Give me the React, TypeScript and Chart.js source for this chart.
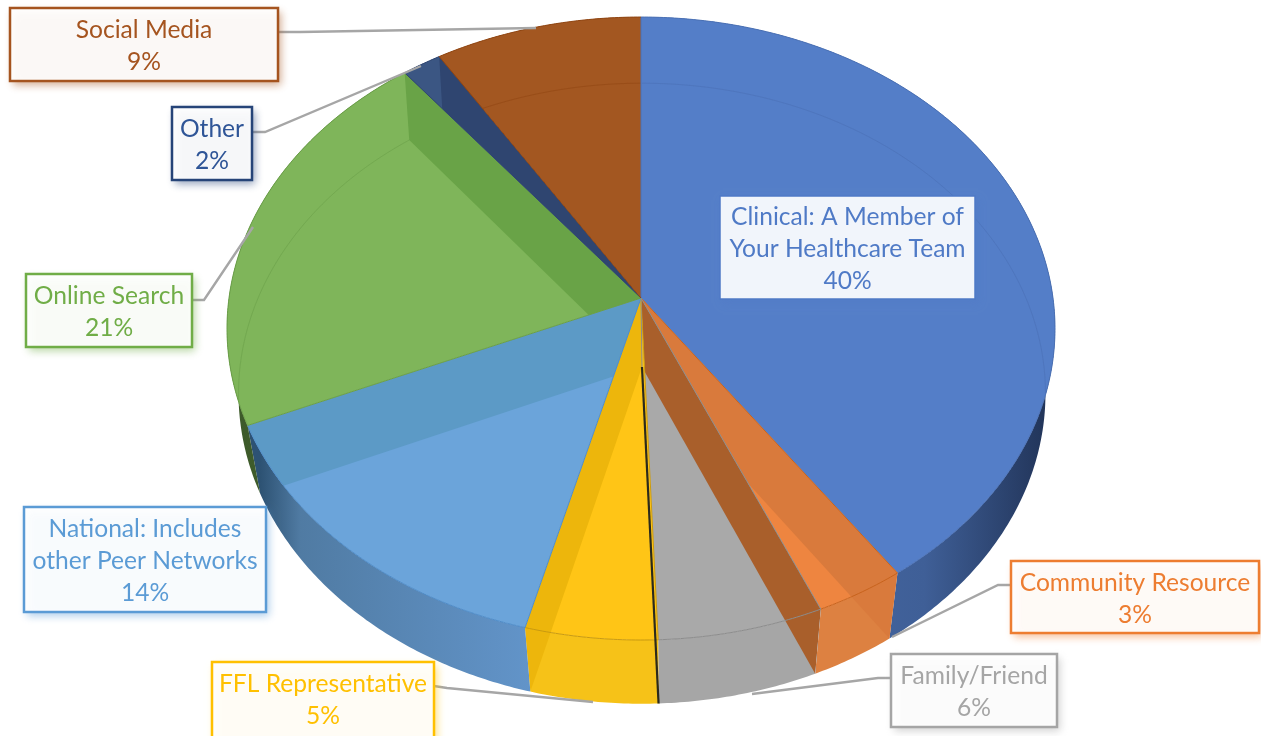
import React, { useEffect, useRef } from "react";
import { Chart, registerables } from "chart.js";

Chart.register(...registerables);

const categories = ["Clinical: A Member of Your Healthcare Team", "Community Resource", "Family/Friend", "FFL Representative", "National: Includes other Peer Networks", "Online Search", "Other", "Social Media"];
const values = [40.3, 3.2, 5.9, 4.7, 14.4, 20.9, 1.7, 8.9];
const labelLines = [
  ["Clinical: A Member of", "Your Healthcare Team"],
  ["Community Resource"],
  ["Family/Friend"],
  ["FFL Representative"],
  ["National: Includes", "other Peer Networks"],
  ["Online Search"],
  ["Other"],
  ["Social Media"],
];
const topColors = ["#547ec8", "#ee8540", "#a9a9a9", "#ffc516", "#6ba4da", "#7fb55a", "#3b5683", "#a35721"];
const edgeColors = ["#4a70b4", "#c8631d", "#8c8c8c", "#c99a10", "#4f8cc8", "#6a9e48", "#2f4570", "#8f4512"];
const textColors = ["#4f7ac6", "#ed7d31", "#a5a5a5", "#ffc000", "#5b9bd5", "#70ad47", "#2f5597", "#a5541f"];
const borderColors = ["#4f7ac6", "#ed7d31", "#a5a5a5", "#ffc000", "#5b9bd5", "#70ad47", "#264478", "#a5541f"];
// shade of the inner radial wall seen through each slice's top: [side at slice start, side at slice end]
const innerWalls: (string | null)[][] = [
  [null, null],
  ["#d97a3c", null],
  ["#a95f2b", null],
  [null, "#edb60c"],
  [null, "#5c9ac6"],
  [null, "#69a347"],
  [null, "#2f4570"],
  [null, null],
];
// whether that inner wall also shows on the slice's outer wall
const wallOverOuter = [false, true, true, true, false, false, false, false];
// colour stops of each slice's outer wall, left to right
const outerWalls: string[][] = [
  ["#4c70ae", "#3f5f97", "#22355a"],
  ["#dd8141", "#dd8141"],
  ["#a6a6a6", "#a6a6a6"],
  ["#f6c218", "#f6c218"],
  ["#2d5273", "#507ba3", "#6294c9"],
  ["#3d5a2a", "#4a6a32"],
  ["#3b5683", "#3b5683"],
  ["#a35721", "#a35721"],
];
// [x, y, w, h] of each label box
const labelBoxes = [
  [720, 196, 255, 103],
  [1011, 561, 248, 72],
  [891, 654, 166, 73],
  [212, 662, 222, 80],
  [24, 507, 242, 105],
  [26, 274, 166, 73],
  [172, 107, 80, 73],
  [10, 8, 268, 73],
];
const leaders: number[][][] = [
  [],
  [[1010, 585], [998, 585], [892, 637]],
  [[891, 678], [878, 678], [752, 694]],
  [[434, 686], [447, 688], [593, 702]],
  [],
  [[192, 300], [204, 300], [253, 227]],
  [[252, 132], [265, 132], [421, 66]],
  [[278, 32], [300, 32], [536, 28]],
];
const topFace = { x0: 641, y0: 298, a: 308.5, b: 412, p: -0.098 };
const bottomFace = { x0: 642, y0: 367, a: 308, b: 402, p: -0.0853 };
type Face = typeof topFace;

function project(theta: number, f: Face): [number, number] {
  const u = Math.sin(theta);
  const v = -Math.cos(theta);
  const d = 1 + f.p * v;
  return [f.x0 + (f.b * u) / d, f.y0 + (f.a * v) / d];
}
function rim(t0: number, t1: number, f: Face): [number, number][] {
  const out: [number, number][] = [];
  const n = Math.max(2, Math.ceil(Math.abs(t1 - t0) / 0.01));
  for (let i = 0; i <= n; i++) out.push(project(t0 + ((t1 - t0) * i) / n, f));
  return out;
}
function trace(ctx: CanvasRenderingContext2D, pts: number[][]) {
  pts.forEach((p, i) => (i ? ctx.lineTo(p[0], p[1]) : ctx.moveTo(p[0], p[1])));
  ctx.closePath();
}

const pie3d = {
  id: "pie3d",
  beforeDatasetsDraw(chart: any) {
    const ctx: CanvasRenderingContext2D = chart.ctx;
    const arcs = chart.getDatasetMeta(0).data;
    const spans = arcs.map((a: any) => [a.startAngle + Math.PI / 2, a.endAngle + Math.PI / 2]);
    const topApex = [topFace.x0, topFace.y0];
    const botApex = [bottomFace.x0, bottomFace.y0];

    // outer walls
    spans.forEach(([t0, t1]: number[], i: number) => {
      const bot = rim(t0, t1, bottomFace);
      const top = rim(t0, t1, topFace).reverse();
      const xs = bot.map((p) => p[0]);
      const g = ctx.createLinearGradient(Math.min(...xs), 0, Math.max(...xs), 0);
      const stops = outerWalls[i];
      stops.forEach((c, k) => g.addColorStop(stops.length === 3 && k === 1 ? (i === 0 ? 0.7 : 0.15) : k / (stops.length - 1), c));
      ctx.beginPath();
      trace(ctx, [...bot, ...top]);
      ctx.fillStyle = g;
      ctx.fill();
    });

    // top faces with the inner walls showing through
    spans.forEach(([t0, t1]: number[], i: number) => {
      const top = rim(t0, t1, topFace);
      ctx.beginPath();
      trace(ctx, [topApex, ...top]);
      ctx.fillStyle = topColors[i];
      ctx.fill();
      ctx.save();
      ctx.beginPath();
      trace(ctx, [topApex, ...top]);
      if (wallOverOuter[i]) trace(ctx, [...rim(t0, t1, bottomFace), ...rim(t0, t1, topFace).reverse()]);
      ctx.clip();
      [t0, t1].forEach((t, side) => {
        const c = innerWalls[i][side];
        if (!c) return;
        ctx.beginPath();
        trace(ctx, [topApex, project(t, topFace), project(t, bottomFace), botApex]);
        ctx.fillStyle = c;
        ctx.fill();
      });
      ctx.restore();
      // back rim of the floor seen through the top
      ctx.save();
      ctx.beginPath();
      trace(ctx, [topApex, ...top]);
      ctx.clip();
      ctx.beginPath();
      rim(t0, t1, bottomFace).forEach((p, k) => (k ? ctx.lineTo(p[0], p[1]) : ctx.moveTo(p[0], p[1])));
      ctx.globalAlpha = 0.55;
      ctx.strokeStyle = edgeColors[i];
      ctx.lineWidth = 1;
      ctx.stroke();
      ctx.restore();
    });

    // edges
    spans.forEach(([t0, t1]: number[], i: number) => {
      ctx.beginPath();
      [topApex, ...rim(t0, t1, topFace)].forEach((p, k) => (k ? ctx.lineTo(p[0], p[1]) : ctx.moveTo(p[0], p[1])));
      ctx.strokeStyle = edgeColors[i];
      ctx.lineWidth = 1;
      ctx.stroke();
    });
    // near-edge-on wall between the grey and yellow slices
    const t = spans[2][1];
    ctx.beginPath();
    ctx.moveTo(topApex[0], topApex[1]);
    ctx.lineTo(botApex[0], botApex[1]);
    ctx.strokeStyle = "#8c8c8c";
    ctx.lineWidth = 1;
    ctx.stroke();
    ctx.beginPath();
    ctx.moveTo(botApex[0], botApex[1]);
    const e = project(t, bottomFace);
    ctx.lineTo(e[0], e[1]);
    ctx.strokeStyle = "#2b2a1c";
    ctx.lineWidth = 2.2;
    ctx.stroke();
    return false;
  },
  afterDraw(chart: any) {
    const ctx: CanvasRenderingContext2D = chart.ctx;
    leaders.forEach((pts) => {
      if (!pts.length) return;
      ctx.beginPath();
      pts.forEach((p, k) => (k ? ctx.lineTo(p[0], p[1]) : ctx.moveTo(p[0], p[1])));
      ctx.strokeStyle = "#a6a6a6";
      ctx.lineWidth = 2.4;
      ctx.stroke();
    });
    labelBoxes.forEach(([x, y, w, h], i) => {
      ctx.save();
      ctx.shadowColor = borderColors[i] + "88";
      ctx.shadowBlur = 8;
      ctx.shadowOffsetX = 3;
      ctx.shadowOffsetY = 4;
      ctx.fillStyle = "rgba(255,255,255,0.92)";
      ctx.fillRect(x, y, w, h);
      ctx.restore();
      ctx.strokeStyle = borderColors[i];
      ctx.lineWidth = i === 0 ? 1.5 : 2.5;
      ctx.strokeRect(x, y, w, h);
      const lines = [...labelLines[i], `${Math.round(values[i])}%`];
      ctx.fillStyle = textColors[i];
      ctx.font = "24.6px Lato";
      ctx.textAlign = "center";
      ctx.textBaseline = "middle";
      const lh = 32;
      const cx = x + w / 2;
      const startY = i === 3 ? y + 22 : y + h / 2 - ((lines.length - 1) * lh) / 2 + 2;
      lines.forEach((l, k) => ctx.fillText(l, cx, startY + k * lh));
    });
  },
};

export default function App() {
  const ref = useRef<HTMLCanvasElement>(null);
  useEffect(() => {
    const chart = new Chart(ref.current!, {
      type: "pie",
      data: { labels: categories, datasets: [{ data: values, backgroundColor: topColors }] },
      options: {
        animation: false,
        responsive: false,
        plugins: { legend: { display: false }, tooltip: { enabled: false } },
      },
      plugins: [pie3d],
    } as any);
    return () => chart.destroy();
  }, []);
  return (
    <canvas
      ref={ref}
      width={1261}
      height={736}
      style={{ position: "absolute", left: 0, top: 0, width: 1261, height: 736, display: "block", background: "#fff" }}
    />
  );
}
